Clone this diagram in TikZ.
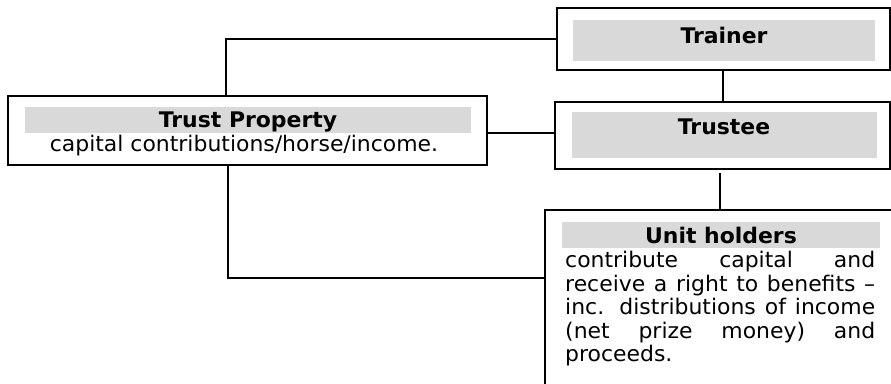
\documentclass[tikz,border=0pt]{standalone}
\usepackage{fontspec}
\setmainfont[FakeStretch=1.02]{DejaVu Sans}
\definecolor{band}{RGB}{217,217,217}
\begin{document}
\begin{tikzpicture}[x=1pt,y=-1pt,
  frame/.style={draw=black,line width=2pt,rectangle,inner sep=0pt},
  bandbox/.style={fill=band,rectangle,inner sep=0pt},
  txt/.style={inner sep=0pt,font=\fontsize{21.5}{23.5}\selectfont},
  ttl/.style={txt,font=\fontsize{21.5}{23.5}\selectfont\bfseries},
  link/.style={draw=black,line width=2pt}]
\useasboundingbox (0,0) rectangle (891,383);
\clip (0,0) rectangle (891,383);
% boxes
\node[frame,minimum width=333pt,minimum height=62pt] (trainer) at (723.5,39) {};
\node[frame,minimum width=335pt,minimum height=67pt] (trustee) at (722.5,135.5) {};
\node[frame,minimum width=479pt,minimum height=69pt] (trust) at (247.5,130.5) {};
\node[frame,minimum width=360pt,minimum height=190pt] (unit) at (725,305) {};
% grey bands
\node[bandbox,minimum width=302pt,minimum height=41pt] (trainerband) at (724,40.5) {};
\node[bandbox,minimum width=305pt,minimum height=46pt] (trusteeband) at (724.5,135) {};
\node[bandbox,minimum width=446pt,minimum height=26pt] (trustband) at (248,120) {};
\node[bandbox,minimum width=318pt,minimum height=26pt] (unitband) at (721,235) {};
% texts
\node[ttl,anchor=base] (trainertxt) at (724,43) {Trainer};
\node[ttl,anchor=base] (trusteetxt) at (724,134) {Trustee};
\node[ttl,anchor=base] (trusttxt) at (248,127) {Trust Property};
\node[txt,anchor=base] (trustbody) at (244,151.5) {capital contributions/horse/income.};
\node[ttl,anchor=base] (unittxt) at (721,243) {Unit holders};
\node[txt,anchor=north west,text width=310pt,align=justify] (unitbody) at (565,251)
  {contribute capital and\linebreak receive a right to benefits –\linebreak inc. distributions of income\linebreak (net prize money) and\linebreak proceeds.};
% connectors
\draw[link] (trainer.west) -| ([xshift=-21.5pt]trust.north);
\draw[link] ([yshift=-2.5pt]trust.east) -- ([yshift=-2.5pt]trust.east -| trustee.west);
\draw[link] ([xshift=-0.5pt]trainer.south) -- ([xshift=-0.5pt]trainer.south |- trustee.north);
\draw[link] ([xshift=-2.5pt,yshift=-3pt]trustee.south) -- ([xshift=-2.5pt]trustee.south |- unit.north);
\draw[link] ([xshift=-19.5pt]trust.south) |- ([yshift=27pt]unit.west);
\end{tikzpicture}
\end{document}
